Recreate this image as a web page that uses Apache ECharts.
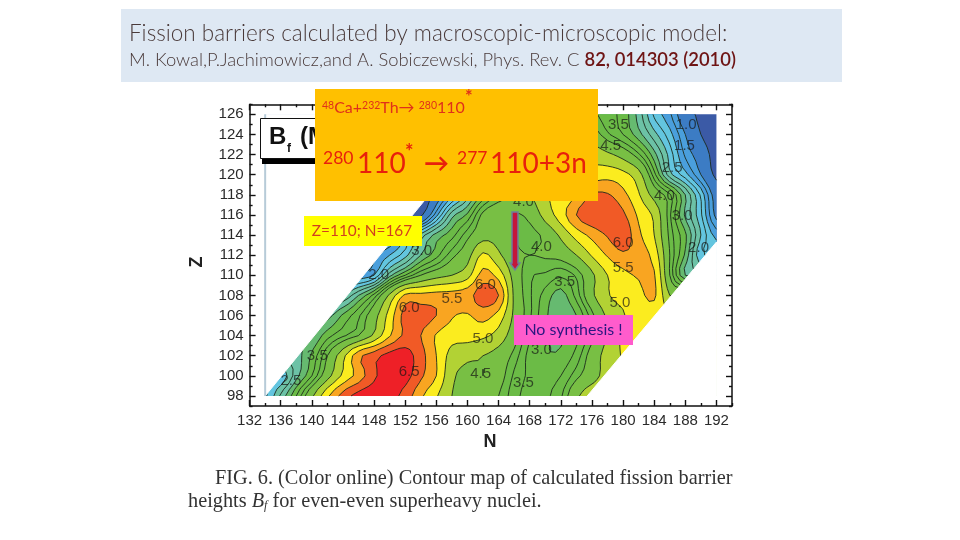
<!DOCTYPE html>
<html><head><meta charset="utf-8">
<style>html,body{margin:0;padding:0;background:#fff}#c{width:960px;height:540px}</style>
<script src="https://cdn.jsdelivr.net/npm/echarts@6/dist/echarts.min.js"></script>
</head><body><div id="c"></div>
<script>
const neutrons=[134,136,138,140,142,144,146,148,150,152,154,156,158,160,162,164,166,168,170,172,174,176,178,180,182,184,186,188,190,192];
const protons=[98,100,102,104,106,108,110,112,114,116,118,120,122,124,126];
const _=null;
const z098=[2.2,2.8,3.5,4.4,5.4,6.2,6.7,6.8,6.7,6.3,5.6,5.05,4.5,4.3,4.2,4.0,3.6,3.4,3.45,3.7,4.4,4.8,_,_,_,_,_,_,_,_];
const z100=[_,2.3,2.9,3.5,4.3,5.1,5.7,6.4,6.8,6.7,6.1,5.5,4.6,4.4,4.5,4.2,3.7,3.45,3.4,3.5,3.9,4.3,4.7,5.0,_,_,_,_,_,_];
const z102=[_,_,2.9,3.3,4.0,4.85,5.85,6.3,6.7,6.75,6.2,5.5,4.8,4.6,4.5,4.3,3.9,3.4,3.27,3.3,3.6,4.2,4.7,5.05,5.3,_,_,_,_,_];
const z104=[_,_,_,3.0,3.4,3.7,4.0,4.6,5.45,6.1,6.0,5.45,5.2,5.2,5.1,4.8,4.2,3.55,3.3,3.2,3.4,3.9,4.55,5.1,5.4,5.6,_,_,_,_];
const z106=[_,_,_,_,2.9,3.3,3.7,4.3,5.2,6.2,6.2,6.0,5.55,5.45,5.7,5.3,4.4,3.8,3.3,3.1,3.25,3.9,4.6,4.95,5.3,5.2,_,_,_,_];
const z108=[_,_,_,_,_,2.5,3.0,3.6,4.6,5.6,5.65,5.7,5.7,5.8,6.3,6.0,4.4,3.8,3.4,3.15,3.6,4.4,4.95,5.2,5.35,5.6,4.5,_,_,_];
const z110=[_,_,_,_,_,_,1.8,2.0,2.9,3.5,4.0,4.3,4.5,4.8,5.7,5.3,4.3,3.8,3.7,3.55,3.8,4.4,5.0,5.35,5.55,5.55,4.0,3.0,_,_];
const z112=[_,_,_,_,_,_,_,1.7,2.0,2.4,3.0,3.4,3.9,4.3,5.1,4.6,4.1,4.0,4.05,4.15,4.5,5.05,5.55,5.9,5.75,5.3,4.0,3.2,2.3,_];
const z114=[_,_,_,_,_,_,_,_,1.4,1.9,2.6,3.1,3.4,3.9,4.3,4.3,4.0,3.9,4.1,4.6,5.2,5.65,6.05,6.35,5.6,5.0,3.9,3.3,2.5,1.9];
const z116=[_,_,_,_,_,_,_,_,_,0.5,0.9,1.9,2.9,3.3,4.1,4.3,4.0,4.1,4.7,5.25,6.0,6.4,6.4,6.1,5.4,4.9,3.8,2.95,2.3,1.4];
const z118=[_,_,_,_,_,_,_,_,_,_,0.6,1.2,1.9,2.6,3.3,3.8,4.1,4.4,4.9,5.1,5.45,6.05,6.05,5.65,5.05,4.3,3.8,3.0,2.2,1.3];
const z120=[_,_,_,_,_,_,_,_,_,_,_,0.8,1.4,2.0,2.7,3.3,3.8,4.1,4.4,4.7,5.0,5.2,5.3,5.15,4.7,3.6,2.6,2.1,1.5,0.9];
const z122=[_,_,_,_,_,_,_,_,_,_,_,_,0.8,1.4,2.1,2.7,3.2,3.6,4.0,4.3,4.6,4.8,4.6,4.3,3.8,3.1,2.4,1.7,1.3,0.8];
const z124=[_,_,_,_,_,_,_,_,_,_,_,_,_,1.0,1.6,2.2,2.7,3.1,3.5,3.8,4.1,4.2,3.8,3.5,3.1,2.6,2.1,1.5,1.0,0.7];
const z126=[_,_,_,_,_,_,_,_,_,_,_,_,_,_,1.1,1.7,2.2,2.6,3.0,3.4,3.7,3.8,3.6,3.4,2.9,2.2,1.8,1.2,0.9,0.6];
const barrierRows=[z098,z100,z102,z104,z106,z108,z110,z112,z114,z116,z118,z120,z122,z124,z126];

const bandFloors=[0,1,1.5,2,2.5,3,3.25,4,4.5,5,5.5,6,6.5];
const bandColors=['#3b5aa6','#3c7cc4','#4a9fdc','#63c5df','#6cc2a6','#66ba70','#6bbb46','#78bf44','#b2d234','#fbec1f','#f9a521','#f15a26','#ee2027'];
const lineLevels=[1,1.5,1.75,2,2.25,2.5,2.75,3,3.25,3.5,3.75,4,4.5,5,5.5,6,6.5];
const maskLeft=[[134,98],[163.5,126],[134,126]];
const maskRight=[[192,113.3],[175.4,98],[192,98]];
const paleLine=[[134,98],[134,126]];
const contourLabels=[[179.4,125,'3.5'],[188.1,125,'1.0'],[178.4,122.9,'4.5'],[187.9,122.9,'1.5'],[186.3,120.7,'2.5'],[185.3,117.9,'4.0'],[187.6,115.9,'3.0'],[180,113.2,'6.0'],[189.7,112.7,'2.0'],[180,110.7,'5.5'],[169.5,112.8,'4.0'],[154.1,112.4,'3.0'],[148.6,110,'2.0'],[172.5,109.3,'3.5'],[162.3,109,'6.0'],[158,107.7,'5.5'],[179.6,107.3,'5.0'],[152.5,106.8,'6.0'],[162,103.7,'5.0'],[169.5,102.6,'3.0'],[140.7,102,'3.5'],[152.5,100.4,'6.5'],[161.7,100.2,'4.5'],[137.3,99.5,'2.5'],[167.2,99.3,'3.5'],[167.2,117.3,'4.0']];
const xMajor=[132,136,140,144,148,152,156,160,164,168,172,176,180,184,188,192];
const xMinor=[134,138,142,146,150,154,158,162,166,170,174,178,182,186,190,194];
const yMajor=[98,100,102,104,106,108,110,112,114,116,118,120,122,124,126];
const yMinor=[97,99,101,103,105,107,109,111,113,115,117,119,121,123,125,127];

// contouring helpers: rows are completed sideways, then refined for smooth contour lines
const filled=barrierRows.map(r=>{const a=r.slice();let f=a.findIndex(v=>v!==null);for(let i=0;i<f;i++)a[i]=a[f];let l=a.length-1;while(a[l]===null)l--;for(let i=l+1;i<a.length;i++)a[i]=a[l];return a;});
const K=3;
function cr(p0,p1,p2,p3,t){return 0.5*(2*p1+(p2-p0)*t+(2*p0-5*p1+4*p2-p3)*t*t+(3*p1-p0-3*p2+p3)*t*t*t);}
function refine(arr){const out=[];for(let i=0;i<arr.length-1;i++){for(let k=0;k<K;k++){out.push(cr(arr[Math.max(i-1,0)],arr[i],arr[i+1],arr[Math.min(i+2,arr.length-1)],k/K));}}out.push(arr[arr.length-1]);return out;}
const byRow=filled.map(refine);
const fineCols=byRow[0].length;
const fineCol=[];for(let c=0;c<fineCols;c++){fineCol.push(refine(byRow.map(r=>r[c])));}
const fineRows=fineCol[0].length;
const nAt=c=>neutrons[0]+(c/K)*2, zAt=r=>protons[0]+(r/K)*2;

function fillPath(api,L){
  const p0=api.coord([nAt(0),zAt(0)]),p1=api.coord([nAt(1),zAt(1)]);
  const dx=p1[0]-p0[0],dy=p1[1]-p0[1];let s='';
  for(let c=0;c<fineCols-1;c++)for(let r=0;r<fineRows-1;r++){
    const vs=[fineCol[c][r],fineCol[c+1][r],fineCol[c+1][r+1],fineCol[c][r+1]];
    if(Math.max(...vs)<L)continue;
    const xs=[c,c+1,c+1,c],ys=[r,r,r+1,r+1];const pts=[];
    for(let i=0;i<4;i++){const j=(i+1)%4;const a=vs[i],b=vs[j];
      if(a>=L)pts.push([xs[i],ys[i]]);
      if((a>=L)!==(b>=L)){const t=(L-a)/(b-a);pts.push([xs[i]+(xs[j]-xs[i])*t,ys[i]+(ys[j]-ys[i])*t]);}
    }
    pts.forEach((q,i)=>{s+=(i?'L':'M')+(p0[0]+q[0]*dx).toFixed(2)+' '+(p0[1]+q[1]*dy).toFixed(2);});
    s+='Z';
  }
  return s;
}
function linePath(api,L){
  const p0=api.coord([nAt(0),zAt(0)]),p1=api.coord([nAt(1),zAt(1)]);
  const dx=p1[0]-p0[0],dy=p1[1]-p0[1];let s='';
  for(let c=0;c<fineCols-1;c++)for(let r=0;r<fineRows-1;r++){
    const vs=[fineCol[c][r],fineCol[c+1][r],fineCol[c+1][r+1],fineCol[c][r+1]];
    const xs=[c,c+1,c+1,c],ys=[r,r,r+1,r+1];const pts=[];
    for(let i=0;i<4;i++){const j=(i+1)%4;const a=vs[i],b=vs[j];
      if((a>=L)!==(b>=L)){const t=(L-a)/(b-a);pts.push([p0[0]+(xs[i]+(xs[j]-xs[i])*t)*dx,p0[1]+(ys[i]+(ys[j]-ys[i])*t)*dy]);}
    }
    for(let i=0;i+1<pts.length;i+=2){s+='M'+pts[i][0].toFixed(2)+' '+pts[i][1].toFixed(2)+'L'+pts[i+1][0].toFixed(2)+' '+pts[i+1][1].toFixed(2);}
  }
  return s;
}
const tickStyle={lineStyle:{color:'#111',width:1.4},inside:true};
function ax(pos,customMajor,len,showLine,labels,extra){
  return Object.assign({type:'value',position:pos,splitLine:{show:false},
    axisLine:{show:showLine,onZero:false,lineStyle:{color:'#111',width:1.5}},
    axisTick:Object.assign({show:true,length:len,customValues:customMajor},tickStyle),
    axisLabel:labels?{show:true,customValues:customMajor,color:'#2a2a2a',fontFamily:'Liberation Sans',fontSize:15,margin:labels,hideOverlap:false,showMinLabel:true,showMaxLabel:true}:{show:false}},extra);
}
const xr={min:132,max:194},yr={min:97,max:127};
const chart=echarts.init(document.getElementById('c'),null,{renderer:'canvas'});
const BOX_Z=50;
const serif='"Liberation Serif"';
const red='#e8200c';
function piece(txt,x,y,font){return {type:'text',z:BOX_Z+1,x:x,y:y,style:{text:txt,font:font,fill:red,verticalAlign:'middle'}};}
chart.setOption({
  animation:false,backgroundColor:'#fff',
  grid:{left:249.6,right:228,top:104.3,bottom:134,containLabel:false},
  xAxis:[ax('bottom',xMajor,6,true,7,xr),ax('top',xMajor,6,true,0,xr),ax('bottom',xMinor,3,false,0,xr),ax('top',xMinor,3,false,0,xr)],
  yAxis:[ax('left',yMajor,6,true,6,yr),ax('right',yMajor,6,true,0,yr),ax('left',yMinor,3,false,0,yr),ax('right',yMinor,3,false,0,yr)],
  series:[
    {type:'custom',coordinateSystem:'cartesian2d',z:2,silent:true,clip:false,data:bandFloors.map(v=>[v]),
     renderItem:(p,api)=>({type:'path',shape:{pathData:fillPath(api,bandFloors[p.dataIndex])},style:{fill:bandColors[p.dataIndex],stroke:null}})},
    {type:'custom',coordinateSystem:'cartesian2d',z:3,silent:true,clip:false,data:lineLevels.map(v=>[v]),
     renderItem:(p,api)=>({type:'path',shape:{pathData:linePath(api,lineLevels[p.dataIndex])},style:{fill:null,stroke:'#1c2a1c',lineWidth:0.9}})},
    {type:'custom',coordinateSystem:'cartesian2d',z:4,silent:true,clip:false,data:[0,1],
     renderItem:(p,api)=>({type:'polygon',shape:{points:(p.dataIndex?maskRight:maskLeft).map(q=>api.coord(q))},style:{fill:'#fff',stroke:'#fff',lineWidth:1}})},
    {type:'line',z:5,data:paleLine,symbol:'none',silent:true,lineStyle:{color:'#b7cbd8',width:2}},
    {type:'scatter',z:6,symbolSize:0,silent:true,data:contourLabels.map(d=>[d[0],d[1],d[2]]),
     label:{show:true,position:'inside',formatter:o=>o.value[2],fontFamily:'Liberation Sans',fontSize:15,color:'rgba(20,20,20,0.85)'}}
  ],
  graphic:[
    {type:'rect',z:BOX_Z,shape:{x:121,y:9,width:721,height:73},style:{fill:'#dee8f3'}},
    {type:'text',z:BOX_Z,x:129,y:34,style:{text:'Fission barriers calculated by macroscopic-microscopic model:',font:'300 22.5px Lato',fill:'#4a3a3a',verticalAlign:'middle'}},
    {type:'text',z:BOX_Z,x:129,y:60,style:{text:'{a|M. Kowal,P.Jachimowicz,and A. Sobiczewski, Phys. Rev. C }{b|82, 014303 (2010)}',verticalAlign:'middle',rich:{a:{font:'300 18.4px Lato',fill:'#4a3a3a'},b:{font:'600 18.4px Lato',fill:'#6e1414'}}}},
    // figure inset
    {type:'rect',z:BOX_Z,shape:{x:262,y:159,width:60,height:5},style:{fill:'#000'}},
    {type:'rect',z:BOX_Z,shape:{x:260.5,y:118.5,width:70,height:40},style:{fill:'#fff',stroke:'#111',lineWidth:1}},
    {type:'text',z:BOX_Z,x:269,y:125,style:{text:'B',font:'bold 24px "Liberation Sans"',fill:'#111'}},
    {type:'text',z:BOX_Z,x:287,y:143,style:{text:'f',font:'bold 12px "Liberation Sans"',fill:'#111'}},
    {type:'text',z:BOX_Z,x:300,y:125,style:{text:'(MeV)',font:'bold 24px "Liberation Sans"',fill:'#111'}},
    // axis titles
    {type:'text',z:BOX_Z,x:197,y:262,rotation:Math.PI/2,style:{text:'Z',font:'bold 18px "Liberation Sans"',fill:'#222',align:'center',verticalAlign:'middle'}},
    {type:'text',z:BOX_Z,x:490,y:442,style:{text:'N',font:'bold 18px "Liberation Sans"',fill:'#222',align:'center',verticalAlign:'middle'}},
    // orange box
    {type:'rect',z:BOX_Z+1,shape:{x:315,y:89,width:283,height:112},style:{fill:'#ffc000'}},
    {type:'text',z:BOX_Z+1,x:322,y:108,style:{text:'{s|48}{m|Ca+}{s|232}{m|Th\u2192 }{s|280}{m|110}',verticalAlign:'middle',rich:{s:{font:'10.5px Lato',fill:'#e0301a',verticalAlign:'top'},m:{font:'16px Lato',fill:'#e0301a'}}}},
    {type:'text',z:BOX_Z+1,x:465,y:88,style:{text:'*',font:'bold 18px Lato',fill:'#e0301a'}},
    piece('280',323,158,'17.5px Lato'),
    piece('110',357,164,'28px Lato'),
    piece('*',405,153,'bold 20px Lato'),
    piece('\u2192',424,164,'bold 25px Lato'),
    piece('277',457,158,'17.5px Lato'),
    piece('110+3n',490,164,'28px Lato'),
    // yellow and pink boxes
    {type:'rect',z:BOX_Z+1,shape:{x:304,y:216,width:118,height:30},style:{fill:'#ffff00'}},
    {type:'text',z:BOX_Z+1,x:362,y:231,style:{text:'Z=110; N=167',font:'15.4px Lato',fill:'#d2401e',align:'center',verticalAlign:'middle'}},
    {type:'rect',z:BOX_Z+1,shape:{x:514,y:315,width:119,height:30},style:{fill:'#ff5ccc'}},
    {type:'text',z:BOX_Z+1,x:573.5,y:330,style:{text:'No synthesis !',font:'16px Lato',fill:'#2a1680',align:'center',verticalAlign:'middle'}},
    // arrow
    {type:'polygon',z:BOX_Z+1,shape:{points:[[512,212],[518,212],[518,263],[520,263],[515,270],[510,263],[512,263]]},style:{fill:'#c4163a',stroke:'#6d7f9c',lineWidth:1.5}},
    // caption
    {type:'text',z:BOX_Z,x:215,y:479,style:{text:'FIG. 6. (Color online) Contour map of calculated fission barrier',font:'20.3px '+serif,fill:'#333',verticalAlign:'middle'}},
    {type:'text',z:BOX_Z,x:188,y:502,style:{text:'heights {i|B}{u|f} for even-even superheavy nuclei.',font:'20.3px '+serif,fill:'#333',verticalAlign:'middle',rich:{i:{font:'italic 20.3px '+serif,fill:'#333'},u:{font:'italic 12px '+serif,fill:'#333',verticalAlign:'bottom'}}}}
  ]
});
</script></body></html>
